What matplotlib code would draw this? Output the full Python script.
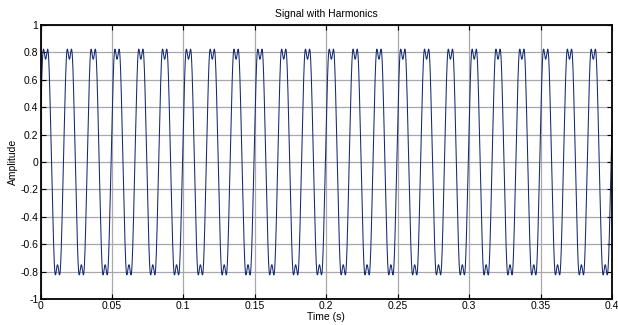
import numpy as np
import matplotlib
matplotlib.use("Agg")
import matplotlib.pyplot as plt
from matplotlib.ticker import FuncFormatter

# Data: a 60 Hz fundamental with 3rd and 5th harmonics
fundamental_hz = 60.0
harmonic_orders = [1, 3, 5]
harmonic_amplitudes = [0.9186, 0.136, -0.0325]
start_phase_deg = 13.0
duration_s = 0.4
n_samples = 8001

x_ticks = [0, 0.05, 0.1, 0.15, 0.2, 0.25, 0.3, 0.35, 0.4]
y_ticks = [-1, -0.8, -0.6, -0.4, -0.2, 0, 0.2, 0.4, 0.6, 0.8, 1]

t = np.linspace(0, duration_s, n_samples)
theta = 2 * np.pi * fundamental_hz * t + np.deg2rad(start_phase_deg)
y = np.zeros_like(t)
for k, a in zip(harmonic_orders, harmonic_amplitudes):
    y += a * np.sin(k * theta)

plt.rcParams['font.family'] = ['Liberation Sans', 'DejaVu Sans']

fig = plt.figure(figsize=(6.18, 3.25), dpi=100)
ax = fig.add_axes([40.5/618, 1 - 299/325, (612 - 40.5)/618, (299 - 25)/325])

ax.plot(t, y, color='#14296f', linewidth=0.75)

ax.set_xlim(0, 0.4)
ax.set_ylim(-1, 1)
ax.set_xticks(x_ticks)
ax.set_yticks(y_ticks)

def fmt(v, pos):
    s = ('%.2f' % v).rstrip('0').rstrip('.')
    if s == '-0':
        s = '0'
    return s

ax.xaxis.set_major_formatter(FuncFormatter(fmt))
ax.yaxis.set_major_formatter(FuncFormatter(fmt))

ax.grid(True, color='#a8a8a8', linewidth=0.9, linestyle='-')
ax.set_axisbelow(True)
ax.tick_params(direction='in', length=3.5, width=0.8, labelsize=7.5,
               top=True, right=True, pad=1.5, colors='black')
for s in ax.spines.values():
    s.set_linewidth(1.3)
    s.set_color('black')

ax.set_title('Signal with Harmonics', fontsize=7.5, pad=6)
ax.set_xlabel('Time (s)', fontsize=7.5, labelpad=0.5)
ax.set_ylabel('Amplitude', fontsize=7.5, labelpad=2)

fig.savefig('out.png', dpi=100)
